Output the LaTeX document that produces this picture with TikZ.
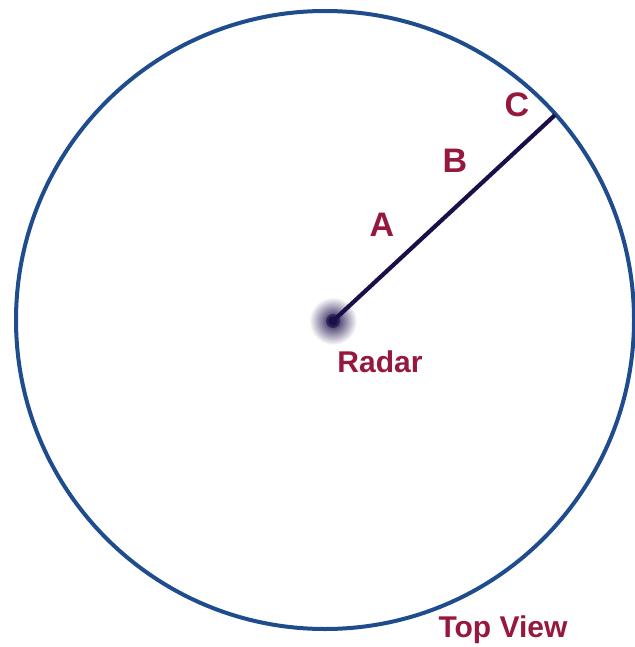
\documentclass[tikz,border=0pt]{standalone}
\usepackage{fontspec}
\setmainfont{Liberation Sans}
\definecolor{ringblue}{RGB}{30,76,140}
\definecolor{labelred}{RGB}{150,24,60}
\definecolor{beamnavy}{RGB}{28,14,72}
\tikzset{
  lbl/.style={text=labelred, font=\bfseries, inner sep=0pt},
  bigl/.style={lbl, font=\fontsize{34}{34}\selectfont\bfseries},
  smalll/.style={lbl, font=\fontsize{30}{30}\selectfont\bfseries},
}
\begin{document}
\begin{tikzpicture}[x=1pt,y=-1pt]
\useasboundingbox (0,0) rectangle (634,647);
\coordinate (ctr) at (325,320);
\draw[ringblue, line width=4pt] (ctr) circle (309);
\coordinate (radar) at (333,321);
\coordinate (edge) at (555,115);
\shade[inner color=beamnavy, outer color=white] (radar) circle (24);
\fill[beamnavy, opacity=0.6] (radar) circle (7);
\draw[beamnavy, line width=4.2pt] (radar) -- (edge);
\fill[beamnavy] (radar) circle (4.5);
\node[smalll] (radarlbl) at (380,362) {Radar};
\node[bigl] (a) at (382,225) {A};
\node[bigl] (b) at (455,161) {B};
\node[bigl] (c) at (517,105) {C};
\node[smalll, anchor=base] (top) at (503,637) {Top View};
\end{tikzpicture}
\end{document}
